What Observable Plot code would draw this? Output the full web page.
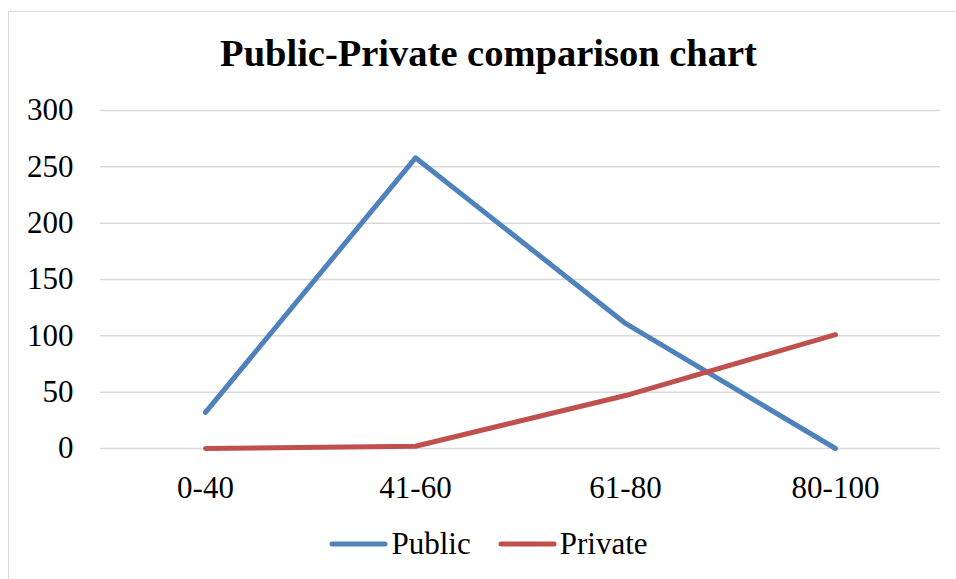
<!DOCTYPE html>
<html>
<head>
<meta charset="utf-8">
<script src="https://cdn.jsdelivr.net/npm/d3@7"></script>
<script src="https://cdn.jsdelivr.net/npm/@observablehq/plot@0.6"></script>
<style>
  html, body { margin: 0; padding: 0; background: #fff; }
  body { width: 956px; height: 579px; overflow: hidden; position: relative; font-family: "Liberation Serif", "Times New Roman", serif; }
  #frame { position: absolute; left: 8px; top: 10.5px; width: 970px; height: 600px; border: 1.5px solid #d9d9d9; box-sizing: border-box; }
  #title { position: absolute; left: 9px; width: 959px; top: 29px; text-align: center; font-family: "Liberation Serif", "Times New Roman", serif; font-weight: bold; font-size: 38.5px; line-height: 48px; color: #000; }
  #chart { position: absolute; left: 0; top: 0; }
  #legend { position: absolute; left: 9px; width: 959px; top: 526px; display: flex; justify-content: center; align-items: center; font-family: "Liberation Serif", "Times New Roman", serif; font-size: 31px; color: #000; }
  #legend .item { display: flex; align-items: center; }
  #legend .item + .item { margin-left: 27px; }
  #legend svg { margin-right: 3px; }
  #chart svg text { font-family: "Liberation Serif", "Times New Roman", serif; }
</style>
</head>
<body>
<div id="frame"></div>
<div id="title">Public-Private comparison chart</div>
<div id="chart"></div>
<div id="legend"></div>
<script>
// Score bands on the x axis
const bands = ["0-40", "41-60", "61-80", "80-100"];
// Counts per band
const publicCounts = [32, 258, 111, 0];
const privateCounts = [0, 2, 47, 101];
// Series names and colours
const seriesNames = ["Public", "Private"];
const seriesColors = ["#4f81bd", "#c0504d"];
const yTicks = [0, 50, 100, 150, 200, 250, 300];

const serif = '"Liberation Serif", "Times New Roman", serif';

const rows = [
  ...bands.map((b, i) => ({band: b, value: publicCounts[i], series: seriesNames[0]})),
  ...bands.map((b, i) => ({band: b, value: privateCounts[i], series: seriesNames[1]}))
];

const chart = Plot.plot({
  width: 956,
  height: 520,
  marginLeft: 100,
  marginRight: 16,
  marginTop: 110,
  marginBottom: 72,
  style: {fontFamily: serif, fontSize: "31px", color: "#000", background: "transparent"},
  x: {type: "point", domain: bands, padding: 0.5, label: null},
  y: {domain: [0, 300], label: null},
  color: {domain: seriesNames, range: seriesColors},
  marks: [
    Plot.gridY(yTicks, {stroke: "#d9d9d9", strokeOpacity: 1, strokeWidth: 1.5}),
    Plot.axisY(yTicks, {tickSize: 0, tickPadding: 27, fill: "#000", fontSize: 31, fontFamily: serif, label: null}),
    Plot.axisX({tickSize: 0, tickPadding: 27, fill: "#000", fontSize: 31, fontFamily: serif, label: null}),
    Plot.line(rows, {x: "band", y: "value", z: "series", stroke: "series", strokeWidth: 5, strokeLinecap: "round", strokeLinejoin: "round"})
  ]
});
document.getElementById("chart").appendChild(chart);

// Legend below the plot
const legend = document.getElementById("legend");
seriesNames.forEach((name, i) => {
  const item = document.createElement("div");
  item.className = "item";
  item.innerHTML = `<svg width="59" height="10"><line x1="3" y1="5" x2="56" y2="5" stroke="${seriesColors[i]}" stroke-width="5" stroke-linecap="round"/></svg><span>${name}</span>`;
  legend.appendChild(item);
});
</script>
</body>
</html>
